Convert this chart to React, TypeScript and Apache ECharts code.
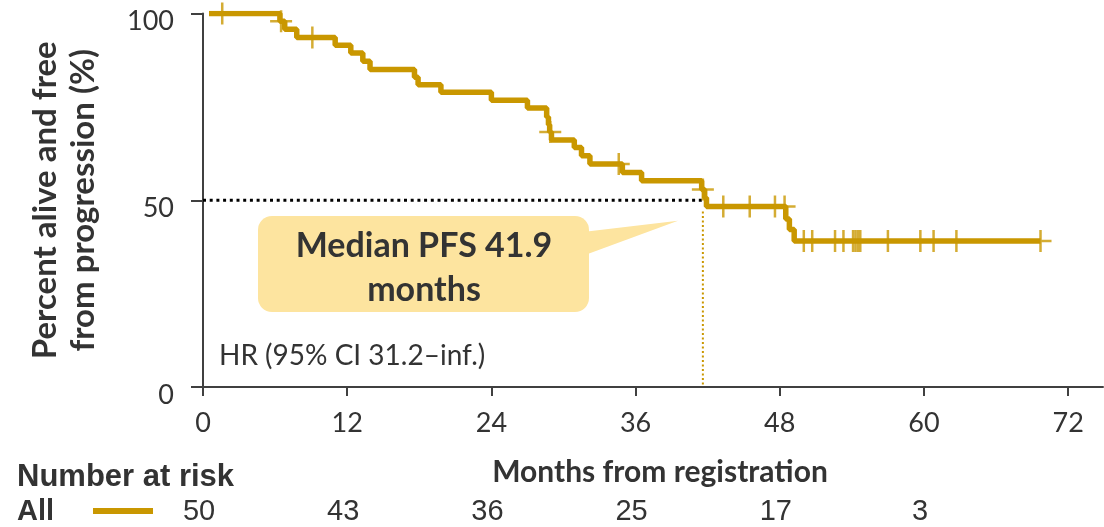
import React, { useEffect, useRef } from "react";
import * as echarts from "echarts";

const GOLD = "#C99700";
const TEXT = "#333333";
const AXIS = "#404040";

// Kaplan–Meier steps (month, % alive and progression-free after the step)
const months = [0.5, 6.4, 6.8, 7.8, 11.0, 12.3, 13.3, 13.9, 17.6, 17.9, 19.8, 24.0, 27.0, 28.6, 28.75, 28.85, 29.0, 30.9, 31.5, 32.2, 34.9, 36.5, 41.5, 41.75, 41.9, 48.5, 48.8, 49.2, 69.7];
const survival = [100, 97.9, 95.8, 93.6, 91.5, 89.4, 87.2, 85.0, 82.9, 80.9, 78.9, 76.8, 74.7, 72.3, 70.2, 68.3, 66.1, 64.1, 61.9, 59.7, 57.4, 55.2, 52.9, 50.7, 48.3, 45.0, 42.2, 39.1, 39.1];

// censored observations
const censorMonths = [1.6, 6.5, 9.1, 28.9, 34.6, 41.6, 43.3, 45.5, 47.6, 48.4, 50.0, 50.7, 52.6, 53.3, 54.1, 54.3, 54.5, 54.7, 57.0, 59.7, 60.8, 62.7, 69.7];
const censorSurvival = [100, 97.9, 93.6, 68.3, 59.7, 52.9, 48.3, 48.3, 48.3, 48.3, 39.1, 39.1, 39.1, 39.1, 39.1, 39.1, 39.1, 39.1, 39.1, 39.1, 39.1, 39.1, 39.1];

const xTicks = [0, 12, 24, 36, 48, 60, 72];
const yTicks = [0, 50, 100];
const riskMonths = [0, 12, 24, 36, 48, 60];
const riskCounts = [50, 43, 36, 25, 17, 3];

const medianMonth = 41.6;
const medianLevel = 50;
const medianText = "Median PFS 41.9\nmonths";
const hrText = "HR (95% CI 31.2–inf.)";
const yTitle = "Percent alive and free\nfrom progression (%)";
const xTitle = "Months from registration";

const PLUS = "path://M9.75,0h2.5v9.75h9.75v2.5h-9.75v9.75h-2.5v-9.75h-9.75v-2.5h9.75z";

export default function App() {
  const ref = useRef<HTMLDivElement>(null);
  useEffect(() => {
    const chart = echarts.init(ref.current!, null, { renderer: "svg" });
    const option: any = {
      animation: false,
      grid: { left: 203, right: 1, top: 13.5, bottom: 140, containLabel: false },
      xAxis: {
        type: "value",
        min: 0,
        max: 74.9,
        interval: 12,
        axisLine: { show: true, lineStyle: { color: AXIS, width: 2 } },
        axisTick: { show: true, length: 9, customValues: xTicks, lineStyle: { color: AXIS, width: 2 } },
        axisLabel: { customValues: xTicks, margin: 21, fontFamily: "Lato", fontSize: 27, color: TEXT },
        splitLine: { show: false },
      },
      yAxis: {
        type: "value",
        min: 0,
        max: 100,
        interval: 50,
        axisLine: { show: true, lineStyle: { color: AXIS, width: 2 } },
        axisTick: { show: true, length: 12, lineStyle: { color: AXIS, width: 2 } },
        axisLabel: { show: false },
        splitLine: { show: false },
        name: yTitle,
        nameLocation: "middle",
        nameRotate: 90,
        nameGap: 103,
        nameTextStyle: { fontFamily: "Lato", fontWeight: "bold", fontSize: 33, lineHeight: 38, color: TEXT, align: "center" },
      },
      series: [
        {
          type: "line",
          data: [[0, medianLevel], [medianMonth, medianLevel]],
          symbol: "none",
          lineStyle: { color: "#000000", width: 3, type: [3, 3.7], cap: "butt" },
          z: 2,
        },
        {
          type: "line",
          data: [[medianMonth, 47], [medianMonth, 0]],
          symbol: "none",
          lineStyle: { color: GOLD, width: 2, type: [2, 2.5] },
          z: 2,
        },
        {
          type: "line",
          step: "end",
          data: months.map((m, i) => [m, survival[i]]),
          showSymbol: false,
          symbol: "none",
          lineStyle: { color: GOLD, width: 5.5 },
          z: 3,
        },
        {
          type: "scatter",
          data: censorMonths.map((m, i) => [m, censorSurvival[i]]),
          symbol: PLUS,
          symbolSize: 22,
          itemStyle: { color: GOLD },
          z: 4,
        },
      ],
    };
    chart.setOption(option);

    const riskGraphics = riskMonths.map((m, i) => {
      const px = chart.convertToPixel({ xAxisIndex: 0 }, m) as number;
      return {
        type: "text",
        x: px - 4,
        y: 510,
        style: {
          text: String(riskCounts[i]),
          font: "29px 'Liberation Sans', Arial, sans-serif",
          fill: TEXT,
          align: "center",
          verticalAlign: "middle",
        },
      };
    });

    const yLabelGraphics = yTicks.map((v) => {
      const py = chart.convertToPixel({ yAxisIndex: 0 }, v) as number;
      return {
        type: "text",
        x: 174,
        y: py + 6,
        style: {
          text: String(v),
          font: "27px Lato, sans-serif",
          fill: TEXT,
          align: "right",
          verticalAlign: "middle",
        },
      };
    });

    chart.setOption({
      graphic: [
        ...yLabelGraphics,
        { type: "rect", shape: { x: 258, y: 216, width: 331, height: 96, r: 14 }, style: { fill: "#FDE49F" }, z: 10 },
        { type: "polygon", shape: { points: [[585, 231.7], [678, 220.7], [585, 255]] }, style: { fill: "#FDE49F" }, z: 10 },
        {
          type: "text",
          x: 424,
          y: 265,
          z: 11,
          style: {
            text: medianText,
            font: "bold 34px Lato, sans-serif",
            lineHeight: 44,
            fill: TEXT,
            align: "center",
            verticalAlign: "middle",
          },
        },
        {
          type: "text",
          x: 219,
          y: 354,
          z: 11,
          style: { text: hrText, font: "28px Lato, sans-serif", fill: TEXT, align: "left", verticalAlign: "middle" },
        },
        {
          type: "text",
          x: 660,
          y: 470,
          style: { text: xTitle, font: "bold 30px Lato, sans-serif", fill: TEXT, align: "center", verticalAlign: "middle" },
        },
        {
          type: "text",
          x: 17,
          y: 475,
          style: { text: "Number at risk", font: "bold 31px 'Liberation Sans', Arial, sans-serif", fill: TEXT, align: "left", verticalAlign: "middle" },
        },
        {
          type: "text",
          x: 17,
          y: 510,
          style: { text: "All", font: "bold 29px 'Liberation Sans', Arial, sans-serif", fill: TEXT, align: "left", verticalAlign: "middle" },
        },
        { type: "rect", shape: { x: 93, y: 508, width: 60, height: 6 }, style: { fill: GOLD } },
        ...riskGraphics,
      ],
    });

    return () => chart.dispose();
  }, []);

  return <div ref={ref} style={{ position: "fixed", left: 0, top: 0, width: 1104, height: 527 }} />;
}
